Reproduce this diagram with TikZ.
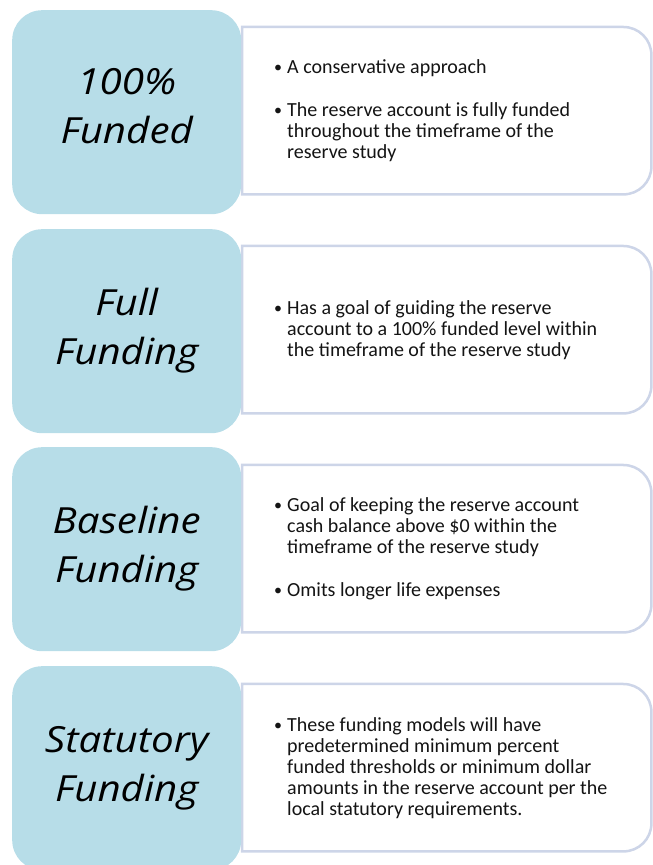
\documentclass[tikz,border=0pt]{standalone}
\usepackage{fontspec}
\setmainfont{Carlito}
\newfontfamily\lblfont[FakeStretch=1.12]{Open Sans}
\definecolor{boxblue}{RGB}{183,221,232}
\definecolor{wborder}{RGB}{205,213,232}
\definecolor{txtcol}{RGB}{20,20,20}
\tikzset{
  bluebox/.style={fill=boxblue, draw=none, rounded corners=30pt, minimum width=229pt, minimum height=204pt, inner sep=0pt, anchor=north west},
  whitebox/.style={fill=white, draw=none, minimum width=409pt, minimum height=167pt, inner sep=0pt, anchor=north west},
  wborderline/.style={draw=wborder, line width=2.5pt},
  lbl/.style={font=\lblfont\itshape\fontsize{36}{49}\selectfont, align=center, text=black, inner sep=0pt},
  txt/.style={font=\fontsize{20}{21}\selectfont, text=txtcol, anchor=west, inner sep=0pt, align=left}
}
\newcommand{\wframe}[1]{%
  \draw[wborderline] (#1.north west) -- ([xshift=-28pt]#1.north east)
    arc[start angle=90, end angle=0, radius=28pt] -- ([yshift=28pt]#1.south east)
    arc[start angle=0, end angle=-90, radius=28pt] -- (#1.south west) -- cycle;}
\newcommand{\bl}{\makebox[13pt][l]{\raisebox{1pt}{\scalebox{0.8}{\textbullet}}}}
\newcommand{\ind}{\hspace*{13pt}}
\begin{document}
\begin{tikzpicture}[x=1pt,y=1pt]
\useasboundingbox (0,0) rectangle (653,865);
% white boxes
\node[whitebox] (w1) at (242,838) {};
\node[whitebox] (w2) at (242,619) {};
\node[whitebox] (w3) at (242,400) {};
\node[whitebox] (w4) at (242,181) {};
\wframe{w1}\wframe{w2}\wframe{w3}\wframe{w4}
% blue boxes
\node[bluebox] (b1) at (12,855) {};
\node[bluebox] (b2) at (12,636) {};
\node[bluebox] (b3) at (12,418) {};
\node[bluebox] (b4) at (12,199) {};
% labels
\node[lbl] (l1) at ([yshift=6pt]b1.center) {100\%\\Funded};
\node[lbl] (l2) at ([yshift=1pt]b2.center) {Full\\Funding};
\node[lbl] (l3) at ([yshift=1pt]b3.center) {Baseline\\Funding};
\node[lbl] (l4) at ([yshift=0pt]b4.center) {Statutory\\Funding};
% texts
\node[txt] (t1) at ([xshift=32pt]w1.west) {\bl A conservative approach\\[22pt]
\bl The reserve account is fully funded\\
\ind throughout the timeframe of the\\
\ind reserve study};
\node[txt] (t2) at ([xshift=32pt]w2.west) {\bl Has a goal of guiding the reserve\\
\ind account to a 100\% funded level within\\
\ind the timeframe of the reserve study};
\node[txt] (t3) at ([xshift=32pt]w3.west) {\bl Goal of keeping the reserve account\\
\ind cash balance above \$0 within the\\
\ind timeframe of the reserve study\\[22pt]
\bl Omits longer life expenses};
\node[txt] (t4) at ([xshift=32pt]w4.west) {\bl These funding models will have\\
\ind predetermined minimum percent\\
\ind funded thresholds or minimum dollar\\
\ind amounts in the reserve account per the\\
\ind local statutory requirements.};
\end{tikzpicture}
\end{document}
